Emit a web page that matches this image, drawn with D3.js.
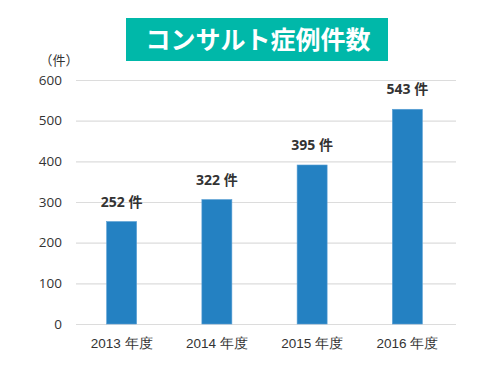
<!DOCTYPE html>
<html>
<head>
<meta charset="utf-8">
<script src="https://cdn.jsdelivr.net/npm/d3@7"></script>
<style>
	body { margin: 0; background: #fff; }
	svg { display: block; font-family: "Open Sans", "Noto Sans CJK JP", sans-serif; }
</style>
</head>
<body>
<div id="wrapper"></div>
<script>
// 1. Data

const years = ["2013 年度", "2014 年度", "2015 年度", "2016 年度"];
const counts = [252, 306, 391, 528];
const countLabels = ["252 件", "322 件", "395 件", "543 件"];
const yTicks = [0, 100, 200, 300, 400, 500, 600];
const titleText = "コンサルト症例件数";
const unitText = "（件）";

// 2. Dimensions

let dimensions = {
	width: 500,
	height: 370,
	margin: { top: 80, right: 44, bottom: 46, left: 75 }
};
dimensions.boundedWidth = dimensions.width - dimensions.margin.left - dimensions.margin.right;
dimensions.boundedHeight = dimensions.height - dimensions.margin.top - dimensions.margin.bottom;

const wrapper = d3.select("#wrapper")
	.append("svg")
	.attr("width", dimensions.width)
	.attr("height", dimensions.height);

const bounds = wrapper.append("g")
	.attr("transform", `translate(${dimensions.margin.left}, ${dimensions.margin.top})`);

// 3. Scales

const xScale = d3.scaleBand()
	.domain(years)
	.range([-1, dimensions.boundedWidth - 1])
	.paddingInner(0.685)
	.paddingOuter(0.3425);

const yScale = d3.scaleLinear()
	.domain([0, 600])
	.range([dimensions.boundedHeight, 0]);

// 4. Grid + axes

const yAxis = bounds.append("g")
	.call(d3.axisLeft(yScale).tickValues(yTicks).tickSize(-dimensions.boundedWidth).tickPadding(13))
	.call(g => g.select(".domain").remove());

yAxis.selectAll(".tick line")
	.attr("stroke", "#dcdcdc")
	.attr("stroke-width", 1.2)
	.attr("x1", 1);

yAxis.selectAll(".tick text")
	.attr("fill", "#333")
	.style("font-size", "13.5px")
	.style("font-family", "'Open Sans', sans-serif");

const xAxis = bounds.append("g")
	.attr("transform", `translate(0, ${dimensions.boundedHeight})`)
	.call(d3.axisBottom(xScale).tickSize(0).tickPadding(14))
	.call(g => g.select(".domain").remove());

xAxis.selectAll(".tick text")
	.attr("fill", "#333")
	.style("font-size", "13.5px");

// 5. Bars

bounds.selectAll(".bar")
	.data(counts)
	.join("rect")
	.attr("class", "bar")
	.attr("x", (d, i) => xScale(years[i]))
	.attr("width", xScale.bandwidth())
	.attr("y", d => yScale(d))
	.attr("height", d => dimensions.boundedHeight - yScale(d))
	.attr("fill", "#2481c2")
	.attr("stroke", "#5a9fd4")
	.attr("stroke-width", 0.6);

bounds.selectAll(".bar-label")
	.data(counts)
	.join("text")
	.attr("class", "bar-label")
	.attr("x", (d, i) => xScale(years[i]) + xScale.bandwidth() / 2)
	.attr("y", d => yScale(d) - 15)
	.attr("text-anchor", "middle")
	.attr("fill", "#333")
	.style("font-size", "14px")
	.style("font-weight", "bold")
	.text((d, i) => countLabels[i]);

// 6. Unit + title

wrapper.append("text")
	.attr("x", 59)
	.attr("y", 65)
	.attr("text-anchor", "middle")
	.attr("fill", "#333")
	.style("font-size", "13px")
	.style("font-family", "'Noto Sans CJK JP', sans-serif")
	.text(unitText);

const titleGroup = wrapper.append("g");

titleGroup.append("rect")
	.attr("x", 126)
	.attr("y", 18)
	.attr("width", 262)
	.attr("height", 43)
	.attr("fill", "#00b8a9");

titleGroup.append("text")
	.attr("x", 258)
	.attr("y", 48.5)
	.attr("text-anchor", "middle")
	.attr("fill", "#fff")
	.style("font-size", "25px")
	.style("font-weight", "bold")
	.style("font-family", "'Noto Sans CJK JP', sans-serif")
	.text(titleText);
</script>
</body>
</html>
